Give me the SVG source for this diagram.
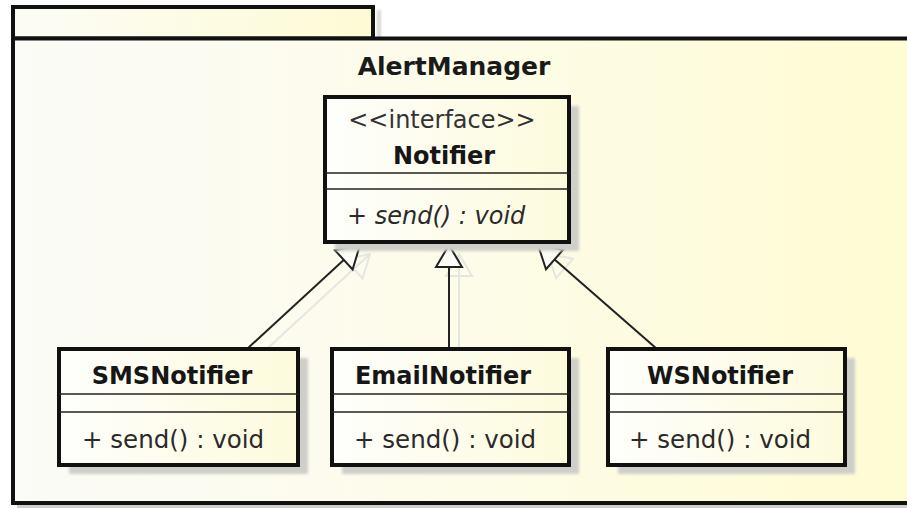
<svg xmlns="http://www.w3.org/2000/svg" width="907" height="508" viewBox="0 0 907 508">
  <defs>
    <linearGradient id="pkgFill" x1="0" y1="0" x2="1" y2="0">
      <stop offset="0" stop-color="#fbfbf7"/>
      <stop offset="0.5" stop-color="#fdfce9"/>
      <stop offset="1" stop-color="#fefcd2"/>
    </linearGradient>
    <linearGradient id="tabFill" x1="0" y1="0" x2="1" y2="0">
      <stop offset="0" stop-color="#fcfcf6"/>
      <stop offset="1" stop-color="#fdfbd4"/>
    </linearGradient>
    <linearGradient id="classFill" x1="0" y1="0" x2="1" y2="0">
      <stop offset="0" stop-color="#fefefc"/>
      <stop offset="1" stop-color="#fdfbdc"/>
    </linearGradient>
    <filter id="soft" x="-10%" y="-10%" width="120%" height="120%">
      <feGaussianBlur stdDeviation="1.5"/>
    </filter>
    <marker id="gen" markerUnits="userSpaceOnUse" viewBox="-25 -16 28 32" markerWidth="28" markerHeight="32" refX="0" refY="0" orient="auto">
      <path d="M0,0 L-22,-13 L-22,13 Z" fill="#fdfdf6" stroke="#222" stroke-width="2" stroke-linejoin="miter"/>
    </marker>
    <marker id="genShadow" markerUnits="userSpaceOnUse" viewBox="-25 -16 28 32" markerWidth="28" markerHeight="32" refX="0" refY="0" orient="auto">
      <path d="M0,0 L-22,-13 L-22,13 Z" fill="none" stroke="#e6e6e0" stroke-width="2"/>
    </marker>
  </defs>
  <style>
    .frame { stroke: #111; stroke-width: 4; }
    .box { fill: url(#classFill); stroke: #111; stroke-width: 4; }
    .shadow { fill: #cfcfca; filter: url(#soft); }
    .div { stroke: #222; stroke-width: 1.6; }
    .name { font-family: "DejaVu Sans", "Liberation Sans", sans-serif; font-weight: bold; font-size: 24px; fill: #161616; text-anchor: middle; }
    .pkg { font-family: "DejaVu Sans", "Liberation Sans", sans-serif; font-weight: bold; font-size: 25px; fill: #1a1a1a; text-anchor: middle; }
    .stereo { font-family: "DejaVu Sans", "Liberation Sans", sans-serif; font-size: 24px; fill: #333; text-anchor: middle; }
    .op { font-family: "DejaVu Sans", "Liberation Sans", sans-serif; font-size: 24.5px; fill: #2a2a2a; }
    .abstract { font-style: italic; font-size: 24px; }
    .edge { stroke: #222; stroke-width: 2; fill: none; marker-end: url(#gen); }
    .edgeShadow { stroke: #e6e6e0; stroke-width: 2; fill: none; marker-end: url(#genShadow); }
  </style>

  <rect x="0" y="0" width="907" height="508" fill="#ffffff"/>

  <!-- package AlertManager -->
  <g id="AlertManager">
    <rect x="377" y="10" width="4" height="28" fill="#d6d6d0" filter="url(#soft)"/>
    <rect x="13" y="7" width="360" height="31.5" fill="url(#tabFill)" class="frame"/>
    <rect x="17" y="505" width="890" height="3" fill="#cfcfca"/>
    <rect x="13" y="38.5" width="900" height="464.5" fill="url(#pkgFill)" class="frame"/>
    <text class="pkg" x="454" y="75">AlertManager</text>
  </g>

  <!-- generalization connectors -->
  <g id="connectors">
    <g transform="translate(10,9)">
      <line class="edgeShadow" x1="247" y1="349" x2="360" y2="245"/>
      <line class="edgeShadow" x1="449" y1="349" x2="449" y2="245"/>
      <line class="edgeShadow" x1="657" y1="349" x2="538" y2="245"/>
    </g>
    <line class="edge" x1="247" y1="349" x2="360" y2="245"/>
    <line class="edge" x1="449" y1="349" x2="449" y2="245"/>
    <line class="edge" x1="657" y1="349" x2="538" y2="245"/>
  </g>

  <!-- interface Notifier -->
  <g id="Notifier">
    <rect class="shadow" x="335" y="106" width="244" height="145"/>
    <rect class="box" x="325" y="97" width="244" height="145"/>
    <text class="stereo" x="442" y="128">&lt;&lt;interface&gt;&gt;</text>
    <text class="name" x="444" y="164">Notifier</text>
    <line class="div" x1="325" y1="173" x2="569" y2="173"/>
    <line class="div" x1="325" y1="189" x2="569" y2="189"/>
    <text class="op abstract" x="347" y="224">+ send() : void</text>
  </g>

  <!-- class SMSNotifier -->
  <g id="SMSNotifier">
    <rect class="shadow" x="69" y="358" width="239" height="116"/>
    <rect class="box" x="59" y="349" width="239" height="116"/>
    <text class="name" x="172" y="384">SMSNotifier</text>
    <line class="div" x1="59" y1="394" x2="298" y2="394"/>
    <line class="div" x1="59" y1="412" x2="298" y2="412"/>
    <text class="op" x="82" y="448">+ send() : void</text>
  </g>

  <!-- class EmailNotifier -->
  <g id="EmailNotifier">
    <rect class="shadow" x="342" y="358" width="237" height="116"/>
    <rect class="box" x="332" y="349" width="237" height="116"/>
    <text class="name" x="443" y="384">EmailNotifier</text>
    <line class="div" x1="332" y1="394" x2="569" y2="394"/>
    <line class="div" x1="332" y1="412" x2="569" y2="412"/>
    <text class="op" x="354" y="448">+ send() : void</text>
  </g>

  <!-- class WSNotifier -->
  <g id="WSNotifier">
    <rect class="shadow" x="618" y="358" width="237" height="116"/>
    <rect class="box" x="608" y="349" width="237" height="116"/>
    <text class="name" x="720" y="384">WSNotifier</text>
    <line class="div" x1="608" y1="394" x2="845" y2="394"/>
    <line class="div" x1="608" y1="412" x2="845" y2="412"/>
    <text class="op" x="629" y="448">+ send() : void</text>
  </g>
</svg>
